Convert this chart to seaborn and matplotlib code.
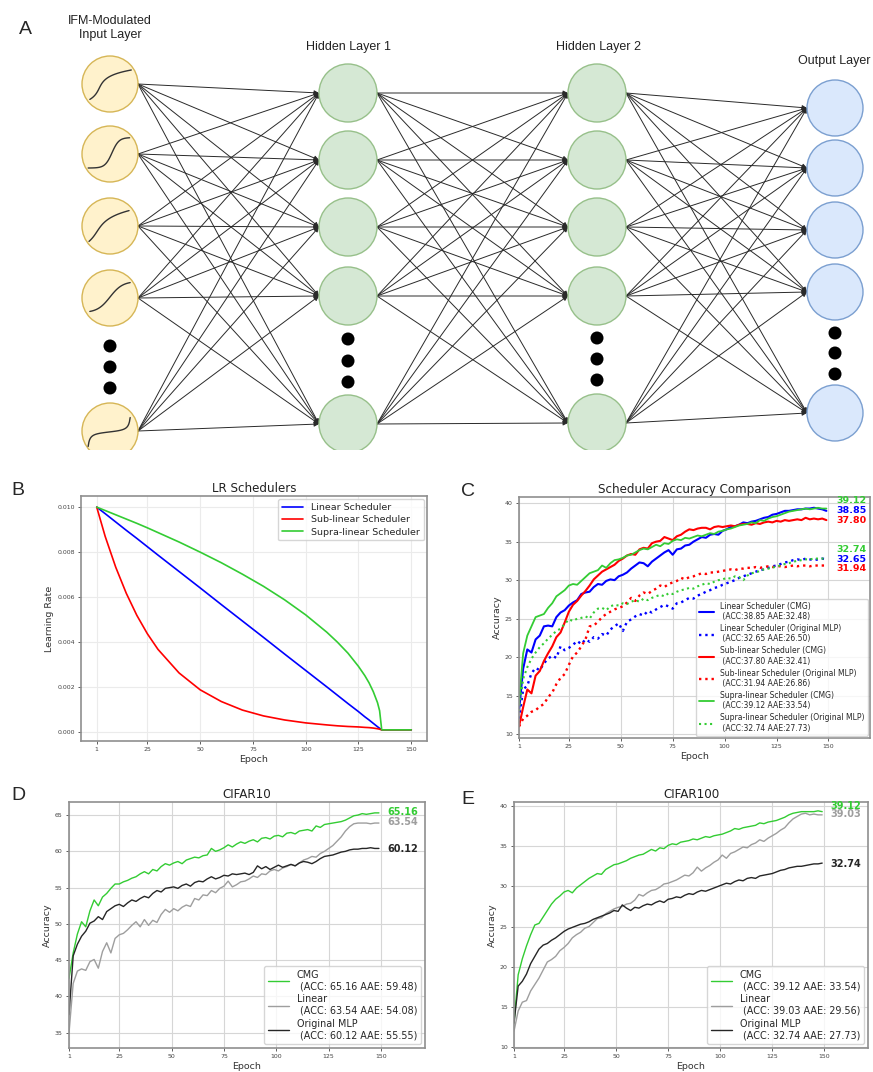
import numpy as np
import pandas as pd
import matplotlib
matplotlib.use("Agg")
import matplotlib.pyplot as plt
from matplotlib.patches import Circle
import seaborn as sns

# ---------------- data ----------------
# panel B: learning-rate schedules
B_EPOCHS = [1, 5, 10, 15, 20, 25, 30, 40, 50, 60, 70, 80, 90, 100, 110, 115, 120,
            125, 128, 130, 132, 134, 135, 136, 150]
LR_LINEAR = [0.0100, 0.00971, 0.00934, 0.00897, 0.00861, 0.00824, 0.00787, 0.00714,
             0.00641, 0.00567, 0.00494, 0.00421, 0.00347, 0.00274, 0.00201, 0.00164,
             0.00127, 0.00091, 0.00068, 0.00054, 0.00039, 0.00024, 0.00017, 0.00010, 0.00010]
LR_SUB = [0.0100, 0.00870, 0.00733, 0.00617, 0.00519, 0.00437, 0.00368, 0.00263,
          0.00188, 0.00136, 0.00098, 0.00072, 0.00054, 0.00041, 0.00032, 0.00028,
          0.00025, 0.00023, 0.00021, 0.00020, 0.00018, 0.00015, 0.00013, 0.00010, 0.00010]
LR_SUPRA = [0.0100, 0.00985, 0.00966, 0.00947, 0.00928, 0.00908, 0.00887, 0.00845,
            0.00800, 0.00753, 0.00702, 0.00648, 0.00588, 0.00521, 0.00444, 0.00400,
            0.00351, 0.00292, 0.00251, 0.00219, 0.00180, 0.00131, 0.00095, 0.00010, 0.00010]

# panels C-E: test accuracy every second epoch (1, 3, ..., 149)
EPOCHS = list(range(1, 150, 2))

C_LIN_CMG = [13.0, 18.5, 21.0, 20.6, 22.3, 22.8, 24.0, 24.1, 24.0, 25.2,
             25.8, 26.1, 26.7, 27.1, 27.4, 28.2, 28.4, 28.5, 29.1, 29.5,
             29.4, 29.9, 30.1, 30.0, 30.5, 30.7, 31.0, 31.5, 31.9, 32.3,
             32.2, 31.8, 32.4, 32.8, 33.2, 33.6, 33.9, 33.3, 34.0, 34.1,
             34.5, 34.6, 35.0, 35.3, 35.6, 35.5, 35.9, 36.0, 35.9, 36.4,
             36.6, 36.9, 37.0, 37.2, 37.5, 37.4, 37.6, 37.7, 37.9, 38.1,
             38.2, 38.5, 38.6, 38.8, 39.0, 39.0, 39.1, 39.2, 39.2, 39.3,
             39.3, 39.4, 39.3, 39.2, 39.0]
C_LIN_MLP = [12.0, 15.8, 16.3, 17.9, 18.6, 18.3, 19.2, 19.8, 20.2, 19.9,
             21.4, 20.9, 21.2, 21.6, 22.1, 21.7, 22.3, 22.0, 22.6, 22.4,
             23.0, 22.8, 23.6, 24.0, 24.4, 23.4, 24.6, 24.9, 25.3, 25.6,
             25.4, 26.0, 25.8, 26.2, 26.5, 26.8, 26.6, 26.3, 27.0, 27.1,
             27.4, 27.7, 27.6, 28.0, 28.2, 28.5, 28.7, 29.0, 29.1, 29.4,
             29.6, 29.8, 30.0, 30.3, 30.5, 30.7, 30.9, 31.1, 31.3, 31.4,
             31.6, 31.8, 31.9, 32.1, 32.3, 32.4, 32.6, 32.7, 32.6, 32.8,
             32.7, 32.6, 32.7, 32.8, 32.7]
C_SUB_CMG = [11.0, 13.5, 15.8, 15.3, 17.6, 18.2, 19.5, 20.5, 21.4, 22.6,
             23.2, 24.5, 25.9, 26.8, 27.3, 28.0, 28.6, 29.3, 30.1, 30.6,
             31.1, 31.4, 31.7, 32.0, 32.5, 32.8, 33.2, 33.4, 33.3, 34.0,
             34.2, 34.1, 34.8, 35.0, 35.1, 35.6, 35.4, 35.2, 35.7, 35.9,
             36.3, 36.6, 36.5, 36.7, 36.8, 36.8, 36.6, 36.9, 37.0, 36.9,
             37.0, 37.1, 37.0, 37.2, 37.3, 37.3, 37.2, 37.4, 37.3, 37.5,
             37.6, 37.5, 37.7, 37.6, 37.8, 37.7, 37.8, 37.9, 37.8, 38.1,
             37.9, 38.0, 37.9, 38.0, 37.8]
C_SUB_MLP = [11.0, 12.0, 12.4, 12.9, 13.1, 13.6, 13.9, 14.8, 15.4, 16.5,
             17.3, 17.8, 19.0, 20.1, 20.6, 21.4, 22.3, 24.0, 24.1, 24.6,
             25.2, 25.6, 25.9, 26.2, 26.4, 26.6, 27.1, 27.7, 27.3, 28.0,
             28.4, 28.2, 28.6, 28.9, 29.3, 29.1, 29.5, 29.7, 29.9, 30.3,
             30.1, 30.4, 30.5, 30.7, 30.9, 30.8, 31.0, 31.0, 31.1, 31.2,
             31.3, 31.4, 31.3, 31.5, 31.5, 31.6, 31.6, 31.7, 31.6, 31.7,
             31.8, 31.7, 31.8, 31.8, 31.7, 31.8, 31.9, 31.8, 31.9, 31.9,
             31.8, 31.9, 31.9, 31.9, 31.9]
C_SUP_CMG = [14.0, 20.5, 22.8, 24.0, 25.2, 25.4, 25.6, 26.4, 27.0, 27.9,
             28.3, 28.7, 29.3, 29.5, 29.4, 29.9, 30.4, 30.9, 31.1, 31.3,
             31.9, 31.6, 32.2, 32.6, 32.7, 32.9, 33.2, 33.3, 33.6, 33.9,
             34.1, 34.0, 34.3, 34.6, 34.4, 34.8, 34.7, 35.1, 35.3, 35.2,
             35.5, 35.4, 35.6, 35.8, 35.7, 35.9, 36.1, 36.0, 36.3, 36.4,
             36.6, 36.7, 36.9, 37.1, 37.2, 37.3, 37.5, 37.4, 37.8, 37.7,
             38.0, 38.2, 38.3, 38.5, 38.7, 38.9, 39.0, 39.1, 39.2, 39.3,
             39.2, 39.3, 39.4, 39.3, 39.3]
C_SUP_MLP = [13.0, 17.2, 18.7, 19.8, 20.6, 21.3, 21.8, 22.4, 22.9, 23.4,
             23.7, 24.3, 24.9, 24.7, 25.0, 25.1, 25.3, 25.0, 25.8, 26.3,
             26.4, 26.1, 26.6, 26.8, 26.7, 27.0, 26.9, 27.2, 27.4, 27.2,
             27.6, 27.4, 27.7, 27.9, 28.1, 27.9, 28.3, 28.2, 28.5, 28.7,
             28.8, 29.0, 28.9, 29.2, 29.4, 29.6, 29.5, 29.8, 30.0, 30.1,
             30.3, 30.2, 30.5, 30.4, 30.0, 30.6, 30.9, 31.0, 31.2, 31.4,
             31.5, 31.6, 31.8, 31.9, 32.1, 32.2, 32.4, 32.5, 32.6, 32.7,
             32.7, 32.8, 32.8, 32.8, 32.8]

C_NAMES = ["Linear Scheduler (CMG)", "Linear Scheduler (Original MLP)",
           "Sub-linear Scheduler (CMG)", "Sub-linear Scheduler (Original MLP)",
           "Supra-linear Scheduler (CMG)", "Supra-linear Scheduler (Original MLP)"]
C_ACC = [38.85, 32.65, 37.80, 31.94, 39.12, 32.74]
C_AAE = [32.48, 26.50, 32.41, 26.86, 33.54, 27.73]

D_CMG = [42.5, 46.0, 48.6, 50.3, 49.6, 51.8, 53.3, 52.5, 53.7, 54.2,
         54.9, 55.5, 55.5, 55.8, 56.0, 56.3, 56.5, 56.9, 57.2, 56.9,
         57.5, 57.3, 57.9, 58.3, 58.1, 58.4, 58.6, 58.3, 58.8, 59.0,
         59.2, 59.1, 59.4, 59.5, 60.4, 60.0, 60.2, 60.5, 60.9, 60.6,
         61.0, 61.3, 61.1, 61.4, 61.6, 61.3, 61.8, 61.9, 61.7, 62.1,
         62.2, 62.0, 62.5, 62.6, 62.4, 62.8, 62.9, 63.0, 62.8, 63.5,
         63.3, 63.7, 63.8, 63.9, 64.0, 64.1, 64.3, 64.6, 64.9, 65.0,
         65.2, 65.1, 65.2, 65.3, 65.3]
D_LINEAR = [35.0, 41.8, 43.5, 43.8, 43.6, 44.8, 45.1, 43.9, 46.2, 47.4,
            46.0, 48.0, 48.5, 48.7, 49.2, 49.8, 50.3, 49.6, 50.6, 49.8,
            50.5, 50.2, 51.3, 52.0, 51.6, 52.1, 51.8, 52.3, 52.6, 52.4,
            53.5, 53.3, 54.0, 53.9, 54.6, 54.3, 54.9, 55.2, 55.9, 55.1,
            55.4, 55.8, 55.9, 56.2, 56.6, 56.4, 56.9, 56.8, 57.3, 57.5,
            57.3, 57.7, 57.9, 58.2, 58.0, 58.4, 58.8, 59.0, 59.3, 59.2,
            59.7, 60.0, 60.4, 60.8, 61.4, 62.0, 62.8, 63.4, 63.8, 63.9,
            63.9, 63.9, 63.8, 63.9, 63.9]
D_MLP = [37.5, 45.6, 47.2, 48.3, 49.0, 50.1, 50.4, 51.0, 50.6, 51.7,
         52.1, 52.5, 52.7, 52.4, 52.9, 53.3, 53.1, 53.5, 53.8, 53.6,
         54.2, 54.6, 54.4, 54.9, 55.0, 55.1, 54.9, 55.3, 55.5, 55.2,
         55.7, 55.9, 55.8, 56.2, 56.5, 56.2, 56.4, 56.7, 56.6, 56.9,
         56.8, 56.9, 57.0, 56.8, 57.1, 58.0, 57.6, 57.9, 57.5, 57.8,
         58.1, 57.8, 58.0, 58.2, 58.0, 58.4, 58.6, 58.5, 58.3, 58.6,
         59.0, 59.3, 59.4, 59.5, 59.7, 59.9, 60.0, 60.2, 60.3, 60.3,
         60.4, 60.4, 60.5, 60.4, 60.4]
D_ACC = [65.16, 63.54, 60.12]
D_AAE = [59.48, 54.08, 55.55]

E_CMG = [13.0, 19.0, 21.0, 22.6, 24.0, 25.2, 25.4, 26.2, 27.0, 27.8,
         28.4, 28.8, 29.3, 29.5, 29.2, 29.8, 30.2, 30.6, 31.0, 31.3,
         31.6, 31.5, 32.1, 32.4, 32.7, 32.8, 33.0, 33.2, 33.5, 33.7,
         33.9, 34.0, 34.3, 34.6, 34.4, 34.8, 34.7, 35.1, 35.3, 35.2,
         35.5, 35.6, 35.7, 35.9, 35.8, 36.0, 36.2, 36.1, 36.3, 36.4,
         36.5, 36.7, 36.9, 37.2, 37.1, 37.3, 37.4, 37.5, 37.6, 37.9,
         37.8, 38.0, 38.1, 38.2, 38.4, 38.6, 38.9, 39.1, 39.2, 39.3,
         39.3, 39.3, 39.3, 39.4, 39.3]
E_LINEAR = [12.0, 14.5, 15.6, 15.8, 17.0, 17.8, 18.6, 19.6, 20.6, 20.9,
            21.3, 22.0, 22.4, 22.9, 23.6, 24.0, 24.3, 24.8, 25.0, 25.5,
            26.0, 26.1, 26.6, 26.9, 27.2, 27.4, 27.5, 27.8, 27.9, 28.3,
            29.0, 28.8, 29.2, 29.5, 29.6, 29.9, 30.3, 30.4, 30.6, 30.8,
            31.1, 31.4, 31.3, 31.7, 32.4, 31.9, 32.3, 32.6, 33.0, 33.3,
            33.9, 33.5, 34.1, 34.3, 34.6, 34.9, 34.8, 35.2, 35.4, 35.8,
            35.6, 36.0, 36.3, 36.6, 37.0, 37.3, 37.9, 38.4, 38.7, 39.0,
            39.1, 38.9, 39.0, 38.9, 38.9]
E_MLP = [13.0, 17.6, 18.2, 19.1, 20.4, 21.3, 22.2, 22.7, 22.9, 23.3,
         23.6, 24.0, 24.4, 24.7, 24.9, 25.1, 25.3, 25.4, 25.6, 25.9,
         26.1, 26.3, 26.5, 26.7, 27.0, 26.9, 27.7, 27.3, 27.0, 27.4,
         27.3, 27.6, 27.8, 27.7, 28.0, 28.2, 28.0, 28.4, 28.5, 28.7,
         28.6, 28.9, 29.1, 29.0, 29.3, 29.5, 29.4, 29.6, 29.8, 30.0,
         30.2, 30.4, 30.3, 30.6, 30.8, 30.7, 31.0, 31.1, 31.0, 31.3,
         31.4, 31.5, 31.6, 31.8, 32.0, 32.1, 32.3, 32.4, 32.5, 32.5,
         32.6, 32.7, 32.8, 32.8, 32.9]
E_ACC = [39.12, 39.03, 32.74]
E_AAE = [33.54, 29.56, 27.73]

MODEL_NAMES = ["CMG", "Linear", "Original MLP"]

# panel A: node layout of the network diagram (pixel units)
LAYER_X = [110, 348, 597, 835]
LAYER_Y = [[84, 154, 226, 298, 431],
           [93, 160, 227, 296, 424],
           [93, 160, 227, 296, 423],
           [108, 168, 230, 292, 413]]
DOTS_Y = [[346, 367, 388], [339, 361, 382], [338, 359, 380], [333, 353, 374]]
NODE_R = [28, 29, 29, 28]
NODE_FILL = ["#fff2cc", "#d5e8d4", "#d5e8d4", "#dae8fc"]
NODE_EDGE = ["#d6b656", "#97c08a", "#97c08a", "#7b9fd0"]

# ---------------- style ----------------
W, H = 873, 1072
sns.set_theme(style="whitegrid")
plt.rcParams.update({
    "font.family": ["DejaVu Sans"],
    "axes.edgecolor": "#8f8f8f",
    "axes.linewidth": 1.2,
    "grid.color": "#d6d6d6",
    "grid.linewidth": 0.8,
    "xtick.bottom": True, "ytick.left": True,
    "xtick.color": "#444444", "ytick.color": "#444444",
    "xtick.major.size": 2.5, "ytick.major.size": 2.5,
    "xtick.major.width": 0.6, "ytick.major.width": 0.6,
    "xtick.major.pad": 2, "ytick.major.pad": 2,
    "xtick.labelsize": 4.5, "ytick.labelsize": 4.5,
    "axes.labelsize": 6.8, "axes.titlesize": 8.6,
    "axes.labelcolor": "#333333", "axes.titlecolor": "#222222",
    "axes.labelpad": 2, "axes.titlepad": 3,
})

GREEN = "#33cc33"
XTICKS = [1, 25, 50, 75, 100, 125, 150]


def px_axes(fig, left, top, right, bottom):
    return fig.add_axes([left / W, 1 - bottom / H, (right - left) / W, (bottom - top) / H])


def panel_letter(fig, x, y, s):
    fig.text(x / W, 1 - y / H, s, fontsize=14, family="Liberation Sans",
             ha="center", va="center")


fig = plt.figure(figsize=(W / 100, H / 100), dpi=100)

# ---------------- A: network diagram ----------------
axA = fig.add_axes([0, 1 - 450 / H, 1, 450 / H])
axA.set_xlim(0, W)
axA.set_ylim(450, 0)
axA.axis("off")

for l in range(3):
    x1, x2 = LAYER_X[l] + NODE_R[l], LAYER_X[l + 1] - NODE_R[l + 1]
    for y1 in LAYER_Y[l]:
        for y2 in LAYER_Y[l + 1]:
            axA.annotate("", xy=(x2, y2), xytext=(x1, y1), zorder=2,
                         arrowprops=dict(arrowstyle="-|>", color="#2a2a2a", lw=0.7,
                                         shrinkA=0, shrinkB=0, mutation_scale=7))

for l in range(4):
    for y in LAYER_Y[l]:
        axA.add_patch(Circle((LAYER_X[l], y), NODE_R[l], fc=NODE_FILL[l],
                             ec=NODE_EDGE[l], lw=1.0, zorder=3))
    for y in DOTS_Y[l]:
        axA.add_patch(Circle((LAYER_X[l], y), 6.5, fc="black", ec="none", zorder=3))

# small activation sketches inside the input nodes
t = np.linspace(-1, 1, 60)
icons = [np.arcsinh(7 * (t + 0.55)), np.tanh(3 * (t - 0.15)), np.arcsinh(3.5 * (t + 0.6)),
         np.tanh(1.6 * t), np.tan(1.45 * t)]
icon_w = [(-0.72, 0.76), (-0.78, 0.7), (-0.75, 0.68), (-0.72, 0.72), (-0.78, 0.72)]
icon_h = [(-0.55, 0.5), (-0.5, 0.58), (-0.55, 0.55), (-0.48, 0.55), (-0.55, 0.48)]
for k, v in enumerate(icons):
    v = (v - v.min()) / (v.max() - v.min())
    u0, u1 = icon_w[k]
    h0, h1 = icon_h[k]
    r = NODE_R[0]
    xs = LAYER_X[0] + (u0 + (t + 1) / 2 * (u1 - u0)) * r
    ys = LAYER_Y[0][k] - (h0 + v * (h1 - h0)) * r
    axA.plot(xs, ys, color="#333333", lw=1.0, zorder=4)

label_kw = dict(fontsize=9, family="Liberation Sans", ha="center", va="center", color="#222222")
axA.text(110, 28, "IFM-Modulated\nInput Layer", linespacing=1.25, **label_kw)
axA.text(348, 47, "Hidden Layer 1", **label_kw)
axA.text(598, 47, "Hidden Layer 2", **label_kw)
axA.text(834, 61, "Output Layer", **label_kw)
panel_letter(fig, 25, 29, "A")

# ---------------- B: LR schedulers ----------------
axB = px_axes(fig, 81, 496, 427, 741)
axB.grid(color="#ebebeb")
sns.lineplot(x=B_EPOCHS, y=LR_LINEAR, color="blue", lw=1.2, label="Linear Scheduler", ax=axB)
sns.lineplot(x=B_EPOCHS, y=LR_SUB, color="red", lw=1.2, label="Sub-linear Scheduler", ax=axB)
sns.lineplot(x=B_EPOCHS, y=LR_SUPRA, color=GREEN, lw=1.2, label="Supra-linear Scheduler", ax=axB)
axB.set_xticks(XTICKS)
axB.set_yticks([0.0, 0.002, 0.004, 0.006, 0.008, 0.010])
axB.set_yticklabels([f"{v:.3f}" for v in [0.0, 0.002, 0.004, 0.006, 0.008, 0.010]])
axB.set_title("LR Schedulers")
axB.set_xlabel("Epoch")
axB.set_ylabel("Learning Rate")
axB.legend(loc="upper right", fontsize=6.8, handlelength=2.3, borderaxespad=0.35,
           labelspacing=0.35)
panel_letter(fig, 18, 491, "B")

# ---------------- C: scheduler accuracy ----------------
axC = px_axes(fig, 519, 497, 870, 738)
c_series = [C_LIN_CMG, C_LIN_MLP, C_SUB_CMG, C_SUB_MLP, C_SUP_CMG, C_SUP_MLP]
c_colors = ["blue", "blue", "red", "red", GREEN, GREEN]
c_styles = ["-", ":", "-", ":", "-", ":"]
c_lw = [1.5, 1.7, 1.5, 1.7, 1.3, 1.5]
for vals, name, col, ls, lw, acc, aae in zip(c_series, C_NAMES, c_colors, c_styles, c_lw, C_ACC, C_AAE):
    sns.lineplot(x=EPOCHS, y=vals, color=col, linestyle=ls, lw=lw, ax=axC,
                 label=f"{name}\n (ACC:{acc:.2f} AAE:{aae:.2f})")
c_label_y = [39.1, 32.7, 37.75, 31.45, 40.35, 33.95]
for col, acc, y in zip(c_colors, C_ACC, c_label_y):
    axC.text(154, y, f"{acc:.2f}", color=col, fontsize=6.8, fontweight="bold",
             va="center", ha="left")
axC.set_xlim(1, 170)
axC.set_ylim(9.5, 40.8)
axC.set_xticks(XTICKS)
axC.set_yticks([10, 15, 20, 25, 30, 35, 40])
axC.set_title("Scheduler Accuracy Comparison")
axC.set_xlabel("Epoch")
axC.set_ylabel("Accuracy")
axC.legend(loc="lower right", fontsize=5.5, handlelength=2.0, borderaxespad=0.3,
           labelspacing=0.38)
panel_letter(fig, 468, 492, "C")


# ---------------- D / E: datasets ----------------
def dataset_panel(ax, series, accs, aaes, dys, ylim, yticks, title):
    cols = [GREEN, "#9e9e9e", "#262626"]
    for vals, name, col, acc, aae in zip(series, MODEL_NAMES, cols, accs, aaes):
        sns.lineplot(x=EPOCHS, y=vals, color=col, lw=1.0, ax=ax,
                     label=f"{name}\n (ACC: {acc:.2f} AAE: {aae:.2f})")
    for vals, col, acc, dy in zip(series, cols, accs, dys):
        ax.text(153, vals[-1] + dy, f"{acc:.2f}", color=col, fontsize=7,
                fontweight="bold", va="center", ha="left")
    ax.set_xlim(1, 171)
    ax.set_ylim(*ylim)
    ax.set_xticks(XTICKS)
    ax.set_yticks(yticks)
    ax.set_title(title)
    ax.set_xlabel("Epoch")
    ax.set_ylabel("Accuracy")
    ax.legend(loc="lower right", fontsize=6.9, handlelength=2.2, borderaxespad=0.4,
              labelspacing=0.3)


axD = px_axes(fig, 69, 802, 425, 1048)
dataset_panel(axD, [D_CMG, D_LINEAR, D_MLP], D_ACC, D_AAE, [0.1, 0.1, -0.1],
              (32.9, 66.8), [35, 40, 45, 50, 55, 60, 65], "CIFAR10")
panel_letter(fig, 18, 795, "D")

axE = px_axes(fig, 514, 802, 868, 1048)
dataset_panel(axE, [E_CMG, E_LINEAR, E_MLP], E_ACC, E_AAE, [0.75, 0.05, -0.1],
              (9.9, 40.5), [10, 15, 20, 25, 30, 35, 40], "CIFAR100")
panel_letter(fig, 468, 800, "E")

fig.savefig("out.png", dpi=100)
